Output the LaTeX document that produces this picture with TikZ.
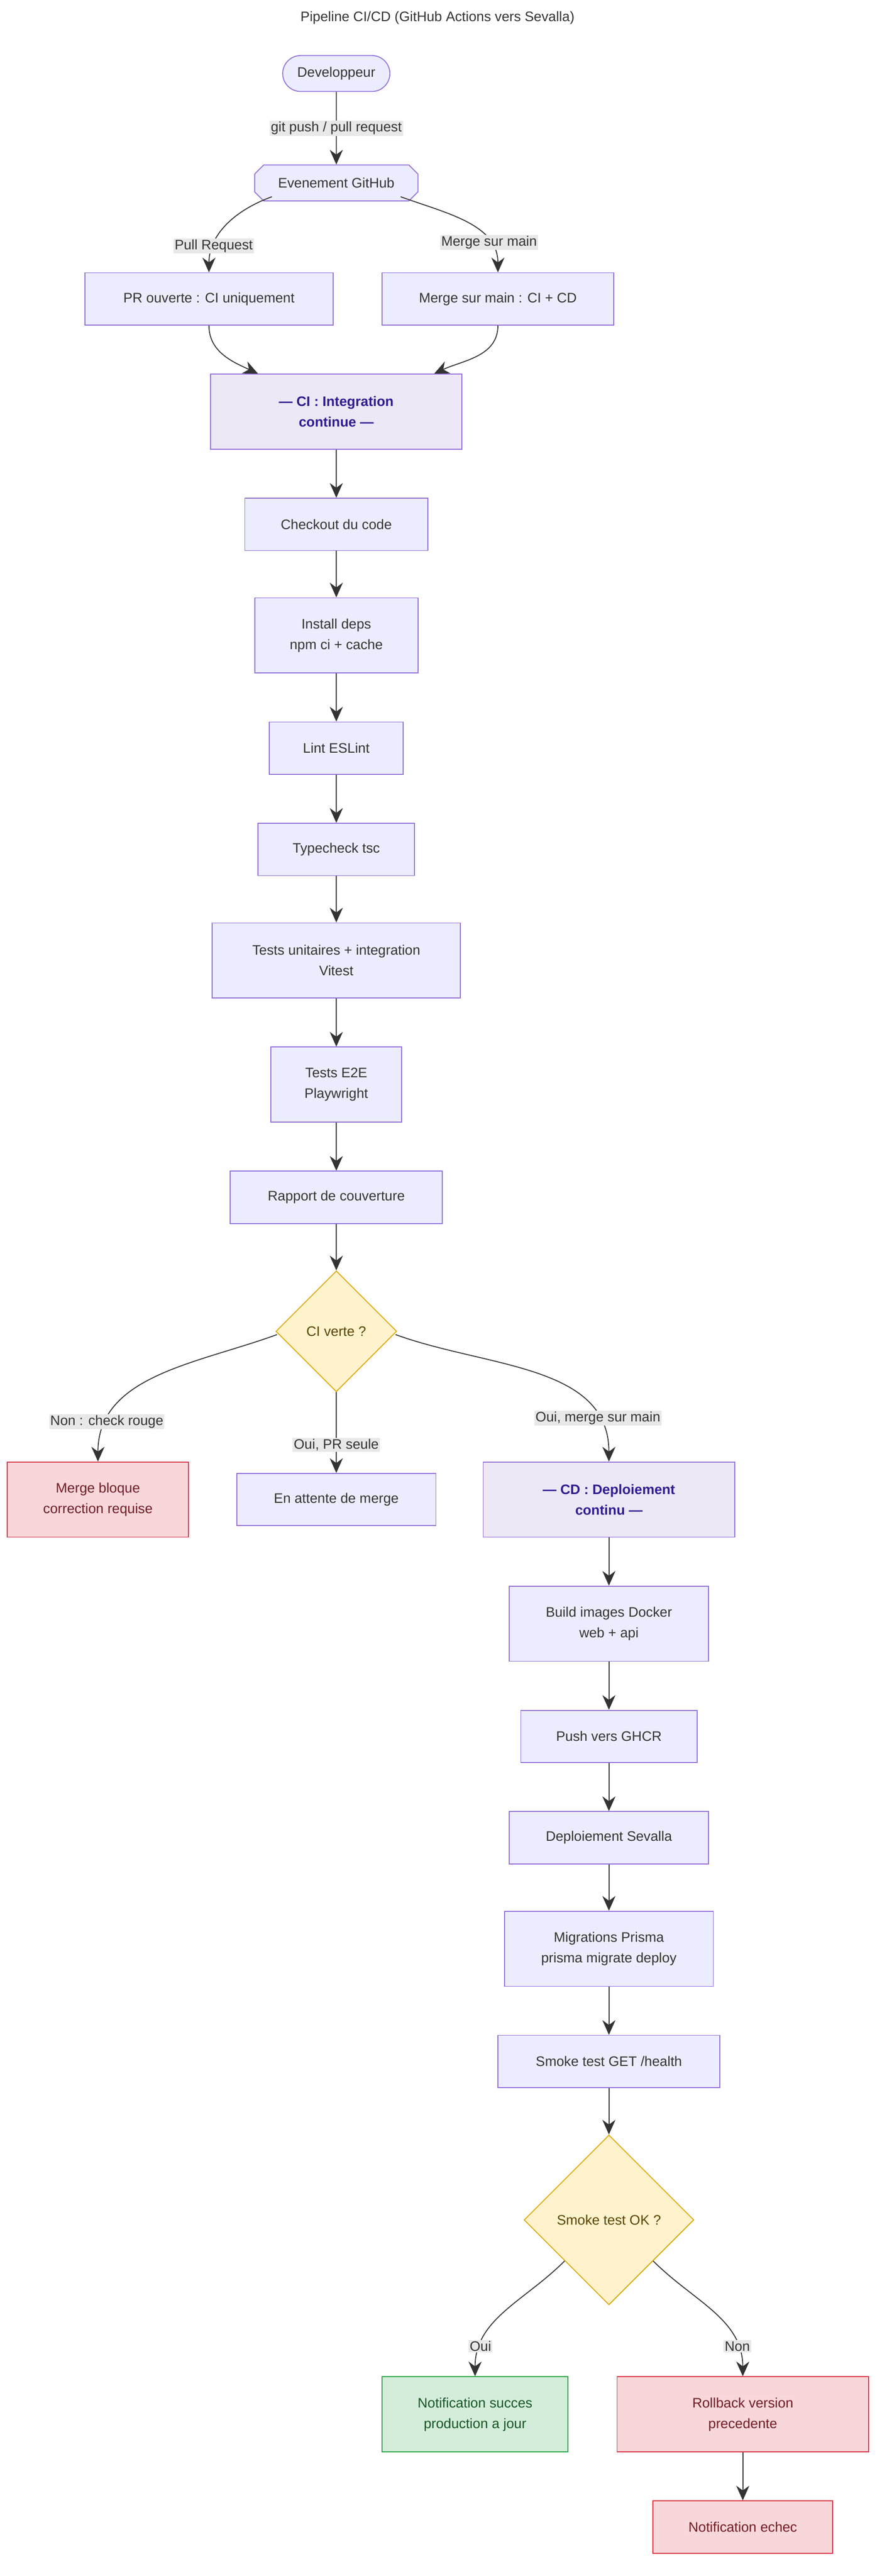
\documentclass[tikz,border=0pt]{standalone}
\usepackage{fontspec}
\setmainfont{Liberation Sans}
\usetikzlibrary{shapes.geometric,shapes.misc,arrows.meta}
\definecolor{boxfill}{HTML}{ECECFF}
\definecolor{boxline}{HTML}{9370DB}
\definecolor{phasefill}{HTML}{EDE7F6}
\definecolor{phasetext}{HTML}{311B92}
\definecolor{redfill}{HTML}{F8D7DA}
\definecolor{redline}{HTML}{DC3545}
\definecolor{redtext}{HTML}{721C24}
\definecolor{yelfill}{HTML}{FFF3CD}
\definecolor{yelline}{HTML}{E0A800}
\definecolor{yeltext}{HTML}{5C4400}
\definecolor{grnfill}{HTML}{D4EDDA}
\definecolor{grnline}{HTML}{28A745}
\definecolor{grntext}{HTML}{155724}
\definecolor{lblfill}{HTML}{E8E8E8}
\definecolor{ink}{HTML}{333333}
\tikzset{
  every node/.style={font=\fontsize{24}{36}\selectfont, text=ink, align=center},
  stepbox/.style={draw=boxline, fill=boxfill, line width=1.6pt, minimum height=3.2cm, inner xsep=0.9cm},
  phasebox/.style={stepbox, fill=phasefill, minimum height=4.6cm, text=phasetext, font=\fontsize{24}{36}\selectfont\bfseries},
  redbox/.style={stepbox, draw=redline, fill=redfill, text=redtext},
  grnbox/.style={stepbox, draw=grnline, fill=grnfill, text=grntext},
  choice/.style={diamond, draw=yelline, fill=yelfill, line width=1.6pt, text=yeltext, inner sep=0pt, aspect=1},
  lbl/.style={fill=lblfill, inner sep=2pt},
  arr/.style={draw=ink, line width=1.6pt, -{Stealth[length=0.9cm,width=0.8cm]}}
}
\begin{document}
\begin{tikzpicture}[x=0.1cm,y=-0.1cm]
\useasboundingbox[fill=white] (0,0) rectangle (540,1577);
\node (title) at (268,11) {Pipeline CI/CD (GitHub Actions vers Sevalla)};
% entree
\node[rounded rectangle, draw=boxline, fill=boxfill, line width=1.6pt, minimum width=6.8cm, minimum height=2.2cm] (dev) at (206,45) {Developpeur};
\node[chamfered rectangle, chamfered rectangle xsep=1.2cm, draw=boxline, fill=boxfill, line width=1.6pt, minimum width=10cm, minimum height=2.2cm] (evt) at (206,112) {Evenement GitHub};
\node[stepbox, minimum width=15.2cm] (pr) at (128,183) {PR ouverte : CI uniquement};
\node[stepbox, minimum width=14.2cm] (merge) at (305,183) {Merge sur main : CI + CD};
% CI
\node[phasebox, minimum width=15.4cm] (ci) at (206,252) {--- CI : Integration\\continue ---};
\node[stepbox, minimum width=11.2cm] (checkout) at (206,321) {Checkout du code};
\node[stepbox, minimum width=10cm, minimum height=4.6cm] (deps) at (206,389) {Install deps\\npm ci + cache};
\node[stepbox, minimum width=8.2cm] (lint) at (206,458) {Lint ESLint};
\node[stepbox, minimum width=9.6cm] (tsc) at (206,520) {Typecheck tsc};
\node[stepbox, minimum width=15.2cm, minimum height=4.6cm] (unit) at (206,588) {Tests unitaires + integration\\Vitest};
\node[stepbox, minimum width=8cm, minimum height=4.6cm] (e2e) at (206,664) {Tests E2E\\Playwright};
\node[stepbox, minimum width=13cm] (cov) at (206,733) {Rapport de couverture};
\node[choice, minimum width=7.4cm, minimum height=7.4cm] (civerte) at (206,815) {CI verte ?};
\node[redbox, minimum width=11.1cm, minimum height=4.6cm] (bloque) at (60,918) {Merge bloque\\correction requise};
\node[stepbox, minimum width=12.2cm] (wait) at (206,918) {En attente de merge};
% CD
\node[phasebox, minimum width=15.4cm] (cd) at (373,918) {--- CD : Deploiement\\continu ---};
\node[stepbox, minimum width=12.2cm, minimum height=4.6cm] (build) at (373,994) {Build images Docker\\web + api};
\node[stepbox, minimum width=10.8cm] (push) at (373,1063) {Push vers GHCR};
\node[stepbox, minimum width=12.2cm] (deploy) at (373,1125) {Deploiement Sevalla};
\node[stepbox, minimum width=12.8cm, minimum height=4.6cm] (migr) at (373,1193) {Migrations Prisma\\prisma migrate deploy};
\node[stepbox, minimum width=13.6cm] (smoke) at (373,1262) {Smoke test GET /health};
\node[choice, minimum width=10.4cm, minimum height=10.4cm] (smokeok) at (373,1359) {Smoke test OK ?};
\node[grnbox, minimum width=11.4cm, minimum height=4.6cm] (succes) at (291,1478) {Notification succes\\production a jour};
\node[redbox, minimum width=15.4cm, minimum height=4.6cm] (rollback) at (455,1478) {Rollback version\\precedente};
\node[redbox, minimum width=11cm] (echec) at (455,1547) {Notification echec};
% connecteurs
\draw[arr] (dev) -- node[lbl]{git push / pull request} (evt);
\draw[arr] (evt.south west) ++(8,0) to[out=200,in=90] node[lbl,pos=0.75]{Pull Request} (pr.north);
\draw[arr] (evt.south east) ++(-8,0) to[out=-20,in=90] node[lbl,pos=0.75]{Merge sur main} (merge.north);
\draw[arr] (pr.south) to[out=-90,in=155] ([xshift=-4.8cm]ci.north);
\draw[arr] (merge.south) to[out=-90,in=25] ([xshift=6cm]ci.north);
\draw[arr] (ci) -- (checkout);
\draw[arr] (checkout) -- (deps);
\draw[arr] (deps) -- (lint);
\draw[arr] (lint) -- (tsc);
\draw[arr] (tsc) -- (unit);
\draw[arr] (unit) -- (e2e);
\draw[arr] (e2e) -- (cov);
\draw[arr] (cov) -- (civerte);
\draw[arr] (civerte.west) ++(1,2) to[out=200,in=90] node[lbl,pos=0.82]{Non : check rouge} (bloque.north);
\draw[arr] (civerte) -- node[lbl,pos=0.65]{Oui, PR seule} (wait);
\draw[arr] (civerte.east) ++(-1,2) to[out=-20,in=90] node[lbl,pos=0.82]{Oui, merge sur main} (cd.north);
\draw[arr] (cd) -- (build);
\draw[arr] (build) -- (push);
\draw[arr] (push) -- (deploy);
\draw[arr] (deploy) -- (migr);
\draw[arr] (migr) -- (smoke);
\draw[arr] (smoke) -- (smokeok);
\draw[arr] (smokeok.south west) ++(-1,-1) to[out=225,in=90] node[lbl,pos=0.8]{Oui} (succes.north);
\draw[arr] (smokeok.south east) ++(1,-1) to[out=-45,in=90] node[lbl,pos=0.8]{Non} (rollback.north);
\draw[arr] (rollback) -- (echec);
\end{tikzpicture}
\end{document}
